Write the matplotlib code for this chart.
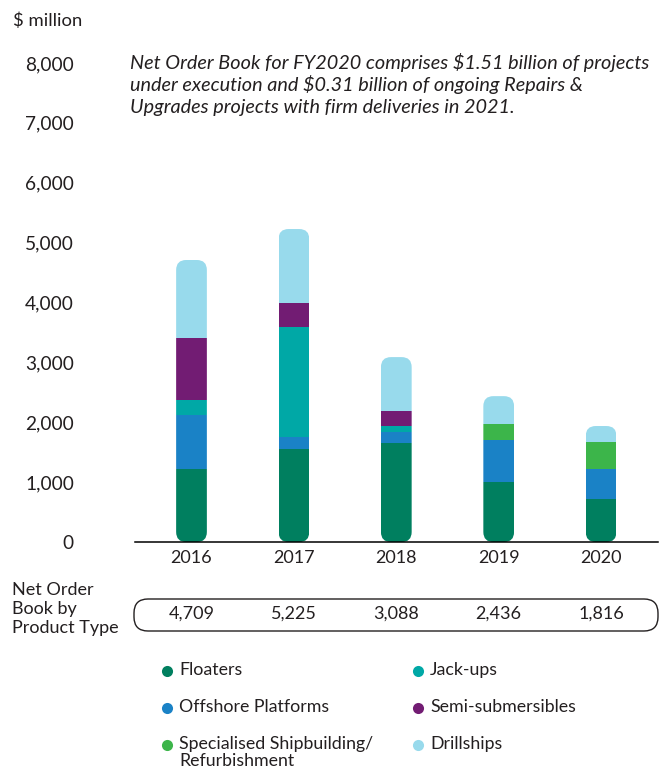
import matplotlib.pyplot as plt
from matplotlib.patches import FancyBboxPatch
from matplotlib.transforms import blended_transform_factory

plt.rcParams['font.family'] = ['Lato', 'DejaVu Sans']

years = ["2016", "2017", "2018", "2019", "2020"]
floaters = [1224, 1553, 1648, 1002, 718]
offshore = [897, 201, 189, 702, 501]
jackups = [251, 1842, 100, 0, 0]
semi = [1040, 401, 251, 0, 0]
specialised = [0, 0, 0, 267, 451]
drillships = [1298, 1230, 900, 465, 267]
totals = ["4,709", "5,225", "3,088", "2,436", "1,816"]
yticks = [0, 1000, 2000, 3000, 4000, 5000, 6000, 7000, 8000]

series = [floaters, offshore, jackups, semi, specialised, drillships]
names = ["Floaters", "Offshore Platforms", "Jack-ups", "Semi-submersibles",
         "Specialised Shipbuilding/\nRefurbishment", "Drillships"]
colors = ["#007f5f", "#1a82c6", "#00a8a6", "#721c73", "#3cb54a", "#98daec"]
text_color = "#231f20"

W, H = 672, 771
fig = plt.figure(figsize=(W / 100, H / 100), dpi=100)

# overlay in pixel coordinates for the annotations
ov = fig.add_axes([0, 0, 1, 1], zorder=-1)
ov.set_xlim(0, W)
ov.set_ylim(H, 0)
ov.axis("off")

# main chart area
left, right, base, top = 135, 658, 542, 63
step, first = 102.4, 191.5
ax = fig.add_axes([left / W, 1 - base / H, (right - left) / W, (base - top) / H])
ax.set_facecolor("none")
ax.set_xlim((left - first) / step, (right - first) / step)
ax.set_ylim(0, 8000)

x = list(range(len(years)))
width = 0.30
bottom = [0] * len(years)
containers = []
for vals, col in zip(series, colors):
    bars = ax.bar(x, vals, width, bottom=bottom, color=col, linewidth=0)
    containers.append(bars)
    bottom = [b + v for b, v in zip(bottom, vals)]

# rounded ends: clip each stack to a rounded box
px_x = step
px_y = (base - top) / 8000
aspect = px_x / px_y
for i in x:
    clip = FancyBboxPatch((i - width / 2, 0), width, bottom[i],
                          boxstyle=f"round,pad=0,rounding_size={10 / px_x}",
                          mutation_aspect=aspect, facecolor="none",
                          edgecolor="none", transform=ax.transData)
    ax.add_patch(clip)
    for bars in containers:
        bars[i].set_clip_path(clip)

for s in ["top", "right", "left"]:
    ax.spines[s].set_visible(False)
ax.spines["bottom"].set_color("black")
ax.spines["bottom"].set_linewidth(1.1)
ax.set_xticks(x)
ax.set_xticklabels(years)
ax.set_yticks(yticks)
ax.set_yticklabels([f"{v:,}" for v in yticks])
ax.tick_params(axis="both", length=0, colors=text_color)
ax.tick_params(axis="y", pad=44, labelsize=13.8)
ax.tick_params(axis="x", pad=6, labelsize=13)

ov.text(13, 21, "$ million", fontsize=13.3, color=text_color, va="center")
note = ["Net Order Book for FY2020 comprises $1.51 billion of projects",
        "under execution and $0.31 billion of ongoing Repairs &",
        "Upgrades projects with firm deliveries in 2021."]
for k, line in enumerate(note):
    ov.text(130, 62 + 23 * k, line, fontsize=14.3, style="italic",
            color=text_color, va="center")

# totals row
for k, line in enumerate(["Net Order", "Book by", "Product Type"]):
    ov.text(12, 590 + 19 * k, line, fontsize=13, color=text_color, va="center")
box = FancyBboxPatch((134, 599), 524, 32, boxstyle="round,pad=0,rounding_size=14",
                     facecolor="none", edgecolor=text_color, linewidth=1)
ov.add_patch(box)
mix = blended_transform_factory(ax.transData, ov.transData)
for i, t in zip(x, totals):
    ov.text(i, 614, t, transform=mix, fontsize=13, color=text_color,
            ha="center", va="center")

# legend
order = [0, 2, 1, 3, 4, 5]
for n, idx in enumerate(order):
    cx = 167 if n % 2 == 0 else 418
    cy = 671 + 37 * (n // 2)
    ov.scatter(cx, cy, s=64, color=colors[idx], linewidths=0)
    ov.text(cx + 12, cy - 9, names[idx], fontsize=12.8, color=text_color,
            va="top", linespacing=1.1)

fig.savefig("out.png", dpi=100)
